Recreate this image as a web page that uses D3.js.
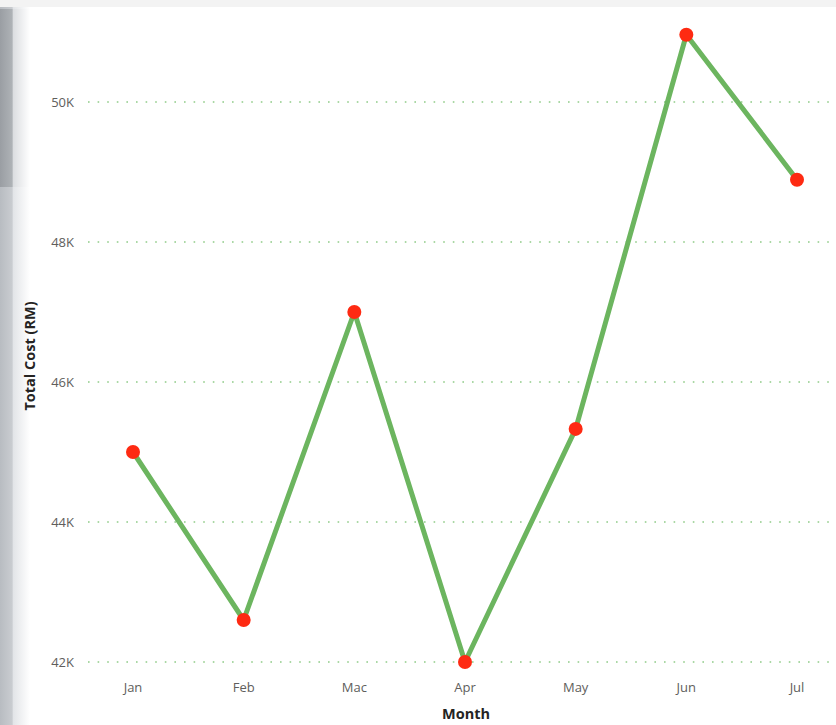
<!DOCTYPE html>
<html>
<head>
<meta charset="utf-8">
<script src="https://cdn.jsdelivr.net/npm/d3@7"></script>
<style>
   body { margin: 0; background: #fff; }
   svg { display: block; font-family: "Open Sans", "Noto Sans", sans-serif; }
   .tick-text { fill: #605e5c; font-size: 13px; }
   .axis-title { fill: #252423; font-size: 14.5px; font-weight: bold; }
</style>
</head>
<body>
<svg id="chart" width="836" height="725"></svg>
<script>
// data
var months = ["Jan", "Feb", "Mac", "Apr", "May", "Jun", "Jul"];
var totalCost = [45000, 42600, 47000, 42000, 45330, 50960, 48890];
var yTicks = [42000, 44000, 46000, 48000, 50000];

var width = 836, height = 725;
var svg = d3.select("#chart");

// frame: grey strip on top, shaded edge on the left
var defs = svg.append("defs");
var grad = defs.append("linearGradient").attr("id", "edge").attr("x1", 0).attr("x2", 1);
grad.append("stop").attr("offset", "0").attr("stop-color", "#b8bcc1");
grad.append("stop").attr("offset", "0.4").attr("stop-color", "#c9ccd0");
grad.append("stop").attr("offset", "0.45").attr("stop-color", "#e3e5e8");
grad.append("stop").attr("offset", "1").attr("stop-color", "#ffffff");
var gradTop = defs.append("linearGradient").attr("id", "edgeTop").attr("x1", 0).attr("x2", 1);
gradTop.append("stop").attr("offset", "0").attr("stop-color", "#9a9ea3");
gradTop.append("stop").attr("offset", "0.4").attr("stop-color", "#aeb2b6");
gradTop.append("stop").attr("offset", "0.45").attr("stop-color", "#dcdee1");
gradTop.append("stop").attr("offset", "1").attr("stop-color", "#ffffff");

svg.append("rect").attr("x", 0).attr("y", 7).attr("width", 30).attr("height", height - 7).attr("fill", "url(#edge)");
svg.append("rect").attr("x", 0).attr("y", 9).attr("width", 30).attr("height", 178).attr("fill", "url(#edgeTop)");
svg.append("rect").attr("x", 0).attr("y", 0).attr("width", width).attr("height", 7).attr("fill", "#f3f3f3");

var x = d3.scalePoint().domain(months).range([133, 797]);
var y = d3.scaleLinear().domain([42000, 50000]).range([662, 102]);

//gridlines
svg.selectAll("line.grid")
   .data(yTicks)
   .enter()
   .append("line")
   .attr("class", "grid")
   .attr("x1", 88)
   .attr("x2", width)
   .attr("y1", function(d){ return y(d); })
   .attr("y2", function(d){ return y(d); })
   .attr("stroke", "#8fcb88")
   .attr("stroke-width", 1.6)
   .attr("stroke-dasharray", "1.6,8");

//y tick labels
svg.selectAll("text.ytick")
   .data(yTicks)
   .enter()
   .append("text")
   .attr("class", "tick-text ytick")
   .attr("text-anchor", "end")
   .attr("x", 74)
   .attr("y", function(d){ return y(d) + 4.5; })
   .text(function(d){ return d3.format("~s")(d).replace("k", "K"); });

//x tick labels
svg.selectAll("text.xtick")
   .data(months)
   .enter()
   .append("text")
   .attr("class", "tick-text xtick")
   .attr("text-anchor", "middle")
   .attr("x", function(d){ return x(d); })
   .attr("y", 692)
   .text(function(d){ return d; });

//axis titles
svg.append("text")
   .attr("class", "axis-title")
   .attr("text-anchor", "middle")
   .attr("x", 466)
   .attr("y", 719)
   .text("Month");

svg.append("text")
   .attr("class", "axis-title")
   .attr("text-anchor", "middle")
   .attr("transform", "translate(35,356) rotate(-90)")
   .text("Total Cost (RM)");

//line and markers
var line = d3.line()
   .x(function(d, i){ return x(months[i]); })
   .y(function(d){ return y(d); });

svg.append("path")
   .datum(totalCost)
   .attr("d", line)
   .attr("fill", "none")
   .attr("stroke", "#6cb55f")
   .attr("stroke-width", 5)
   .attr("stroke-linejoin", "round");

svg.selectAll("circle.marker")
   .data(totalCost)
   .enter()
   .append("circle")
   .attr("class", "marker")
   .attr("cx", function(d, i){ return x(months[i]); })
   .attr("cy", function(d){ return y(d); })
   .attr("r", 7)
   .attr("fill", "#fe2a12");
</script>
</body>
</html>
